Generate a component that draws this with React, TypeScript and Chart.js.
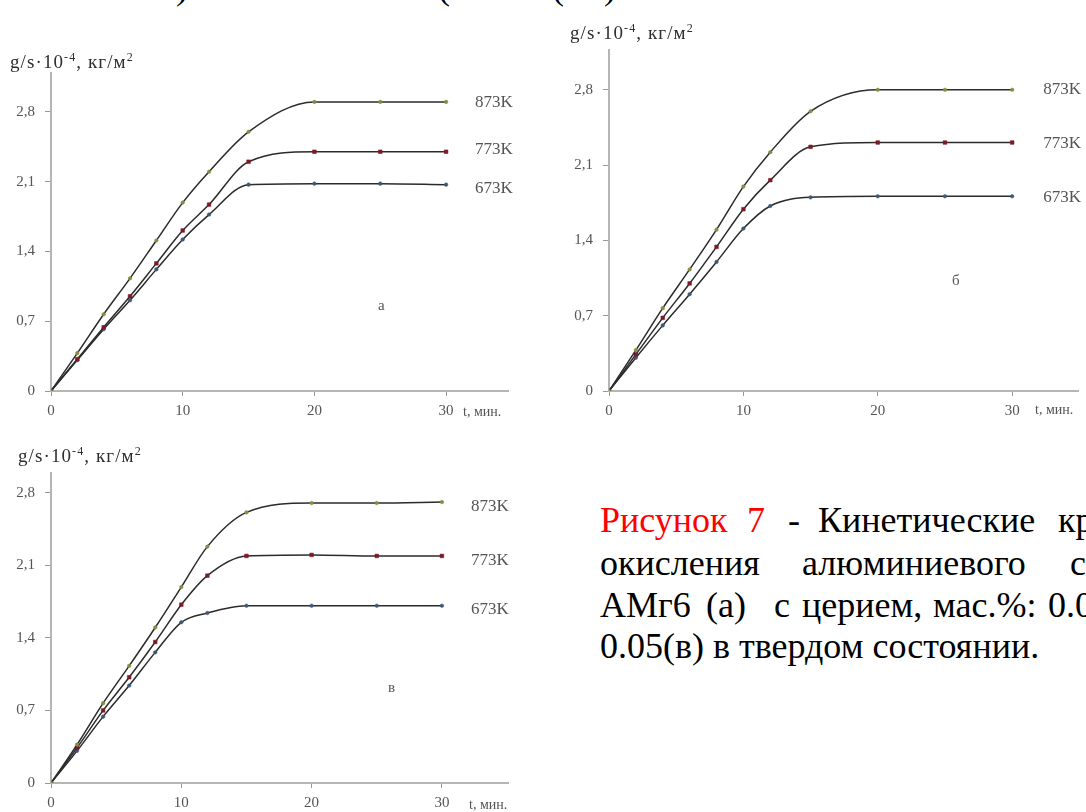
import React, { useEffect, useRef } from "react";
import { Chart, registerables } from "chart.js";

Chart.register(...registerables);

// ---- data ----
const times = [0, 2, 4, 6, 8, 10, 12, 15, 20, 25, 30];
const seriesNames = ["873K", "773K", "673K"];
const xTicks = [0, 10, 20, 30];
const yTicks = [0, 0.7, 1.4, 2.1, 2.8];

// panel а
const a873 = [0, 0.38, 0.77, 1.13, 1.51, 1.89, 2.2, 2.6, 2.9, 2.9, 2.9];
const a773 = [0, 0.32, 0.64, 0.95, 1.28, 1.61, 1.87, 2.3, 2.4, 2.4, 2.4];
const a673 = [0, 0.31, 0.62, 0.91, 1.22, 1.52, 1.77, 2.07, 2.08, 2.08, 2.07];

// panel б
const b873 = [0, 0.38, 0.77, 1.13, 1.5, 1.9, 2.22, 2.6, 2.8, 2.8, 2.8];
const b773 = [0, 0.34, 0.68, 1.0, 1.34, 1.69, 1.96, 2.27, 2.31, 2.31, 2.31];
const b673 = [0, 0.31, 0.61, 0.9, 1.2, 1.51, 1.72, 1.8, 1.81, 1.81, 1.81];

// panel в
const c873 = [0, 0.37, 0.77, 1.13, 1.5, 1.89, 2.28, 2.61, 2.7, 2.7, 2.71];
const c773 = [0, 0.34, 0.7, 1.02, 1.36, 1.72, 2.0, 2.19, 2.2, 2.19, 2.19];
const c673 = [0, 0.31, 0.64, 0.94, 1.26, 1.55, 1.64, 1.71, 1.71, 1.71, 1.71];

const SERIF = "'Liberation Serif', 'Times New Roman', serif";

const pointColors = ["#8a8a40", "#7a1a28", "#3d5878"];
const pointStyles = ["circle", "rect", "circle"];
const pointRadii = [1.8, 2.6, 1.8];

const endLabels = {
  id: "endLabels",
  afterDatasetsDraw(chart: any, _args: any, opts: any) {
    const ctx = chart.ctx;
    ctx.save();
    ctx.font = `17px ${SERIF}`;
    ctx.fillStyle = "#555";
    ctx.textAlign = "left";
    ctx.textBaseline = "middle";
    chart.data.datasets.forEach((ds: any, i: number) => {
      const meta = chart.getDatasetMeta(i);
      const last = meta.data[meta.data.length - 1];
      ctx.fillText(ds.label, last.x + opts.dx, last.y + opts.dy[i]);
    });
    ctx.restore();
  },
};

type PanelProps = {
  left: number;
  top: number;
  width: number;
  height: number;
  yWidth: number;
  xHeight: number;
  padTop: number;
  padRight: number;
  xMax: number;
  yMax: number;
  series: number[][];
  dx: number;
  dy: number[];
};

function Panel(p: PanelProps) {
  const ref = useRef<HTMLCanvasElement | null>(null);
  useEffect(() => {
    if (!ref.current) return;
    const tickFont = { family: SERIF, size: 15 };
    const chart = new Chart(ref.current, {
      type: "line",
      data: {
        datasets: p.series.map((vals, i) => ({
          label: seriesNames[i],
          data: times.map((t, j) => ({ x: t, y: vals[j] })),
          borderColor: "#2b2b2b",
          borderWidth: 1.5,
          cubicInterpolationMode: "monotone" as const,
          pointRadius: pointRadii[i],
          pointStyle: pointStyles[i] as any,
          pointBackgroundColor: pointColors[i],
          pointBorderColor: pointColors[i],
          pointBorderWidth: 0.5,
          fill: false,
        })),
      },
      options: {
        animation: false,
        responsive: false,
        devicePixelRatio: 1,
        layout: { padding: { top: p.padTop, right: p.padRight, left: 0, bottom: 0 } },
        plugins: {
          legend: { display: false },
          tooltip: { enabled: false },
          endLabels: { dx: p.dx, dy: p.dy },
        } as any,
        scales: {
          x: {
            type: "linear",
            min: 0,
            max: p.xMax,
            afterBuildTicks: (s: any) => {
              s.ticks = xTicks.map((v) => ({ value: v }));
            },
            afterFit: (s: any) => {
              s.height = p.xHeight;
              s.paddingLeft = 0;
              s.paddingRight = 0;
              s.paddingTop = 0;
              s.paddingBottom = 0;
            },
            grid: { drawOnChartArea: false, tickLength: 5, color: "#999" },
            border: { color: "#b5b5b5", width: 2 },
            ticks: {
              font: tickFont,
              color: "#555",
              padding: 6,
              maxRotation: 0,
              autoSkip: false,
              callback: (v: any) => String(v),
            },
          },
          y: {
            type: "linear",
            min: 0,
            max: p.yMax,
            afterBuildTicks: (s: any) => {
              s.ticks = yTicks.map((v) => ({ value: v }));
            },
            afterFit: (s: any) => {
              s.width = p.yWidth;
              s.paddingLeft = 0;
              s.paddingRight = 0;
              s.paddingTop = 0;
              s.paddingBottom = 0;
            },
            grid: { drawOnChartArea: false, tickLength: 6, color: "#999" },
            border: { color: "#b5b5b5", width: 2 },
            ticks: {
              font: tickFont,
              color: "#555",
              padding: 10,
              autoSkip: false,
              callback: (v: any) => (Number(v) === 0 ? "0" : Number(v).toFixed(1).replace(".", ",")),
            },
          },
        },
      },
      plugins: [endLabels],
    });
    return () => chart.destroy();
  }, []);
  return (
    <canvas
      ref={ref}
      width={p.width}
      height={p.height}
      style={{ position: "absolute", left: p.left, top: p.top, width: p.width, height: p.height }}
    />
  );
}

const txt = (extra: React.CSSProperties): React.CSSProperties => ({
  position: "absolute",
  fontFamily: SERIF,
  whiteSpace: "nowrap",
  ...extra,
});

function AxisTitle({ left, top }: { left: number; top: number }) {
  return (
    <div style={txt({ left, top, fontSize: 19, lineHeight: "22px", color: "#2e2e2e", letterSpacing: 1.1 })}>
      g/s·10<sup style={{ fontSize: 12 }}>-4</sup>, кг/м<sup style={{ fontSize: 12 }}>2</sup>
    </div>
  );
}

function TLabel({ left, top }: { left: number; top: number }) {
  return <div style={txt({ left, top, fontSize: 14, lineHeight: "18px", color: "#555" })}>t, мин.</div>;
}

const captionLines: { top: number; words: [string, number, string?][] }[] = [
  { top: 499, words: [["Рисунок", 600, "#ff0000"], ["7", 747, "#ff0000"], ["-", 788], ["Кинетические", 818], ["кривые", 1058]] },
  { top: 542, words: [["окисления", 600], ["алюминиевого", 802], ["сплава", 1070]] },
  { top: 584, words: [["АМг6", 600], ["(а)", 706], ["с", 774], ["церием,", 802], ["мас.%:", 933], ["0.01(б),", 1048]] },
];

export default function App() {
  return (
    <div
      style={{
        position: "absolute",
        left: 0,
        top: 0,
        width: 1086,
        height: 812,
        overflow: "hidden",
        background: "#fff",
      }}
    >
      {/* cut-off line of text at the very top */}
      {([[")", 176], ["(", 438], ["(", 552], [")", 604]] as [string, number][]).map(([s, x], i) => (
        <div key={"p" + i} style={txt({ left: x, top: -34, fontSize: 36, lineHeight: "42px", color: "#000" })}>
          {s}
        </div>
      ))}

      <Panel
        left={0}
        top={60}
        width={540}
        height={365}
        yWidth={51}
        xHeight={34}
        padTop={13}
        padRight={32}
        xMax={34.7}
        yMax={3.19}
        series={[a873, a773, a673]}
        dx={29}
        dy={[1, -2, 4]}
      />
      <Panel
        left={560}
        top={40}
        width={560}
        height={385}
        yWidth={49}
        xHeight={34}
        padTop={10}
        padRight={42}
        xMax={34.9}
        yMax={3.17}
        series={[b873, b773, b673]}
        dx={31}
        dy={[0, 1, 1]}
      />
      <Panel
        left={0}
        top={460}
        width={540}
        height={352}
        yWidth={51}
        xHeight={29}
        padTop={13}
        padRight={32}
        xMax={35.07}
        yMax={2.99}
        series={[c873, c773, c673]}
        dx={29}
        dy={[5, 5, 4]}
      />

      <AxisTitle left={10} top={46} />
      <AxisTitle left={570} top={17} />
      <AxisTitle left={18} top={440} />

      <TLabel left={463} top={403} />
      <TLabel left={1035} top={401} />
      <TLabel left={469} top={796} />

      <div style={txt({ left: 378, top: 295, fontSize: 15, lineHeight: "20px", color: "#555" })}>а</div>
      <div style={txt({ left: 952, top: 270, fontSize: 15, lineHeight: "20px", color: "#555" })}>б</div>
      <div style={txt({ left: 388, top: 677, fontSize: 15, lineHeight: "20px", color: "#555" })}>в</div>

      {captionLines.map((line, li) =>
        line.words.map(([w, x, c], wi) => (
          <div
            key={li + "-" + wi}
            style={txt({ left: x, top: line.top, fontSize: 36, lineHeight: "42px", color: c || "#000" })}
          >
            {w}
          </div>
        ))
      )}
      <div style={txt({ left: 600, top: 625, fontSize: 36, lineHeight: "42px", color: "#000" })}>
        0.05(в) в твердом состоянии.
      </div>
    </div>
  );
}
